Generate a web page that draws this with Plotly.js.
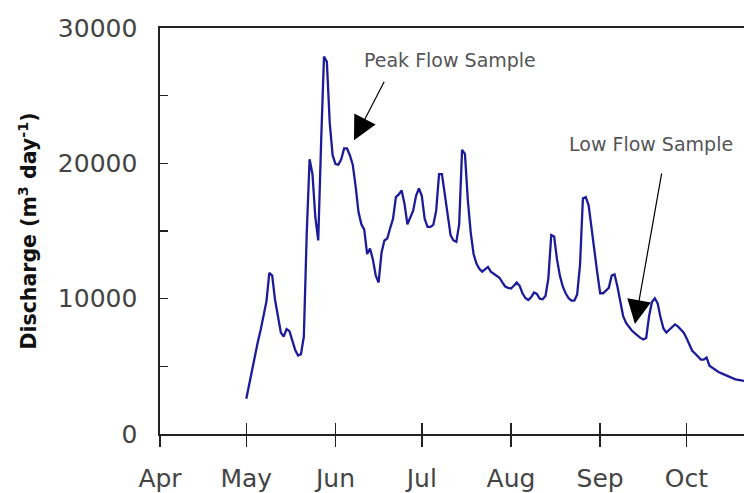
<!DOCTYPE html>
<html>
<head>
<meta charset="utf-8">
<script src="https://cdn.plot.ly/plotly-3.0.1.min.js"></script>
<style>
html,body{margin:0;padding:0;background:#ffffff;}
#chart{width:744px;height:493px;}
</style>
</head>
<body>
<div id="chart"></div>
<script>
// ---- data (daily discharge, m3/day) ----
const firstDay = '2003-05-01';
const discharge = [
  2600, 3700, 4700, 5700, 6800, 7700, 8700, 9800, 11900, 11700,
  9900, 8700, 7500, 7200, 7750, 7600, 6800, 6200, 5800, 5900,
  7200, 14800, 20300, 19200, 16000, 14300, 21500, 27900, 27500, 23000,
  20600, 19950, 19900, 20300, 21100, 21100, 20600, 19900, 18300, 16400,
  15500, 15100, 13300, 13700, 12900, 11700, 11200, 13400, 14300, 14450,
  15200, 15900, 17500, 17700, 18000, 17000, 15500, 15950, 16500, 17600,
  18150, 17600, 15900, 15300, 15300, 15450, 16500, 19200, 19200, 17700,
  16200, 14700, 14300, 14200, 15500, 21000, 20700, 17300, 14900, 13300,
  12600, 12200, 12000, 12200, 12350, 12000, 11850, 11700, 11550, 11200,
  10900, 10800, 10750, 10950, 11200, 10950, 10400, 10050, 9900, 10100,
  10450, 10350, 10000, 9950, 10200, 11500, 14700, 14600, 12900, 11700,
  10900, 10400, 10050, 9850, 9850, 10300, 12500, 17400, 17500, 16900,
  15100, 13500, 11900, 10400, 10400, 10600, 10800, 11700, 11800, 10900,
  9700, 8700, 8200, 7900, 7650, 7450, 7250, 7100, 6980, 7100,
  8700, 9750, 10030, 9650, 8600, 7800, 7500, 7700, 7950, 8100,
  7950, 7750, 7500, 7100, 6550, 6150, 5950, 5750, 5500, 5500,
  5650, 5050, 4900, 4730, 4600, 4500, 4400, 4300, 4200, 4120,
  4040, 4000, 3960, 3920
];
const monthTickDates = ['2003-04-01','2003-05-01','2003-06-01','2003-07-01','2003-08-01','2003-09-01','2003-10-01'];
const monthTickLabels = ['Apr','May','Jun','Jul','Aug','Sep','Oct'];
const xRange = ['2003-04-01','2003-10-21'];
const yRange = [0, 30000];
const yTickVals = [0, 10000, 20000, 30000];
const yTickText = ['0', '10000', '20000', '30000'];

// consecutive daily dates for the series
const dates = [];
(function(){
  const d0 = new Date(firstDay + 'T00:00:00Z');
  for (let i = 0; i < discharge.length; i++) {
    const d = new Date(d0.getTime() + i * 86400000);
    dates.push(d.toISOString().slice(0,10));
  }
})();

const tickFont = {family: 'DejaVu Sans, sans-serif', size: 25, color: '#444444'};
const noteFont = {family: 'DejaVu Sans, sans-serif', size: 19, color: '#555555'};

const traces = [
  {
    type: 'scatter',
    mode: 'lines',
    x: dates,
    y: discharge,
    line: {color: '#1c1c9a', width: 2.3, shape: 'linear'},
    hoverinfo: 'x+y',
    showlegend: false
  },
  {
    // carrier so the overlaid tick axis (inner half of the crossing ticks) is drawn
    type: 'scatter',
    mode: 'lines',
    x: [dates[0]],
    y: [null],
    xaxis: 'x2',
    yaxis: 'y',
    hoverinfo: 'skip',
    showlegend: false
  }
];

const layout = {
  width: 744,
  height: 493,
  margin: {l: 160, r: 0, t: 28, b: 59, pad: 0},
  paper_bgcolor: '#ffffff',
  plot_bgcolor: '#ffffff',
  showlegend: false,
  xaxis: {
    type: 'date',
    range: xRange,
    tickmode: 'array',
    tickvals: monthTickDates,
    ticktext: monthTickLabels,
    ticks: 'outside',
    ticklen: 11,
    tickwidth: 1.5,
    tickcolor: '#222222',
    showline: true,
    linecolor: '#222222',
    linewidth: 1.6,
    mirror: true,
    showgrid: false,
    zeroline: false,
    tickfont: tickFont,
    ticklabelstandoff: 10
  },
  xaxis2: {
    type: 'date',
    overlaying: 'x',
    side: 'bottom',
    anchor: 'y',
    range: xRange,
    tickmode: 'array',
    tickvals: monthTickDates,
    ticktext: monthTickLabels,
    showticklabels: false,
    ticks: 'inside',
    ticklen: 11,
    tickwidth: 1.5,
    tickcolor: '#222222',
    showline: false,
    showgrid: false,
    zeroline: false
  },
  yaxis: {
    range: yRange,
    tickmode: 'array',
    tickvals: yTickVals,
    ticktext: yTickText,
    ticks: 'inside',
    ticklen: 8,
    tickwidth: 1.5,
    tickcolor: '#222222',
    minor: {dtick: 5000, ticks: 'inside', ticklen: 8, tickwidth: 1.5, tickcolor: '#222222', showgrid: false},
    showline: true,
    linecolor: '#222222',
    linewidth: 1.6,
    showgrid: false,
    zeroline: false,
    tickfont: tickFont,
    ticklabelstandoff: 16,
    title: {
      text: '<b>Discharge (m<sup>3</sup> day<sup>-1</sup>)</b>',
      font: {family: 'DejaVu Sans, sans-serif', size: 20.5, color: '#111111'},
      standoff: 15
    }
  },
  annotations: [
    {xref: 'paper', yref: 'paper', x: 0.4966, y: 0.921, text: 'Peak Flow Sample',
     showarrow: false, font: noteFont, xanchor: 'center', yanchor: 'middle'},
    {xref: 'paper', yref: 'paper', x: 0.8408, y: 0.714, text: 'Low Flow Sample',
     showarrow: false, font: noteFont, xanchor: 'center', yanchor: 'middle'},
    {xref: 'x', yref: 'y', x: '2003-06-07 10:00', y: 21700, text: '',
     showarrow: true, arrowhead: 2, arrowsize: 4, arrowwidth: 1.2, arrowcolor: '#000000',
     ax: 31, ay: -60, standoff: 0},
    {xref: 'x', yref: 'y', x: '2003-09-13 02:00', y: 8130, text: '',
     showarrow: true, arrowhead: 2, arrowsize: 4, arrowwidth: 1.2, arrowcolor: '#000000',
     ax: 27, ay: -152, standoff: 0}
  ]
};

Plotly.newPlot('chart', traces, layout, {displayModeBar: false, staticPlot: true});
</script>
</body>
</html>
